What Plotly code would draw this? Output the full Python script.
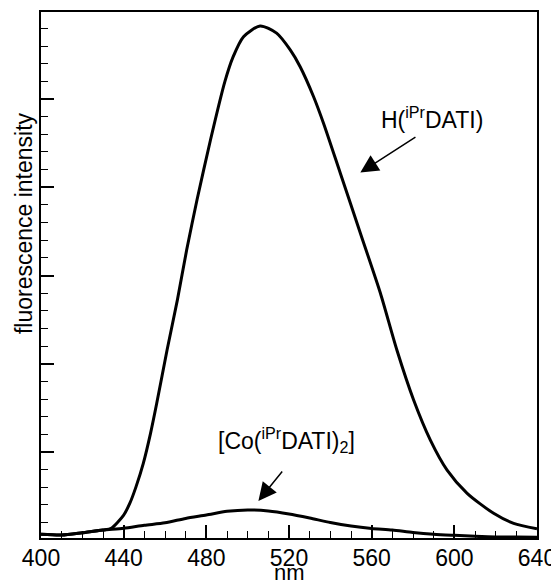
import plotly.graph_objects as go

# Wavelength (nm) and intensity (arbitrary units; 1 unit = one minor y tick)
h_nm = [400, 410, 420, 430, 434, 440, 443, 446, 449.5, 453, 456, 461, 466, 470.5, 475.5,
        482, 489, 493, 498, 506, 514, 520.6, 525.4, 531.9, 536.7, 544.8, 554.5, 564.2,
        572.2, 580.3, 588.4, 596.5, 606.2, 619, 628.7, 640]
h_int = [0.34, 0.30, 0.43, 0.58, 0.68, 1.43, 2.10, 3.04, 4.36, 6.06, 7.76, 10.78, 13.62, 16.46,
         19.29, 22.68, 26.0, 27.4, 28.53, 29.14, 28.73, 27.78, 26.83, 25.13, 23.63, 20.81,
         17.41, 14.01, 10.78, 7.95, 5.68, 3.98, 2.66, 1.53, 0.96, 0.65]

co_nm = [400, 410, 420, 430, 440, 450, 460, 470, 480, 490, 500, 510, 520, 530, 540, 550,
         560, 570, 580, 590, 600, 610, 620, 630, 640]
co_int = [0.34, 0.30, 0.43, 0.58, 0.68, 0.85, 0.99, 1.24, 1.43, 1.64, 1.72, 1.66, 1.49, 1.26,
          1.01, 0.81, 0.67, 0.58, 0.44, 0.34, 0.28, 0.23, 0.19, 0.18, 0.17]

x_ticks = [400, 440, 480, 520, 560, 600, 640]

FONT = "Liberation Sans, Arial, Helvetica, sans-serif"

fig = go.Figure()
fig.add_trace(go.Scatter(x=h_nm, y=h_int, mode="lines",
                         line=dict(color="black", width=3, shape="spline", smoothing=0.7), showlegend=False))
fig.add_trace(go.Scatter(x=co_nm, y=co_int, mode="lines",
                         line=dict(color="black", width=3, shape="spline", smoothing=0.7), showlegend=False))

fig.update_xaxes(range=[400, 640], tickvals=x_ticks, ticktext=[str(v) for v in x_ticks], automargin=False,
                 ticks="inside", ticklen=13, tickwidth=1.5, tickcolor="black", ticklabelstandoff=-2,
                 minor=dict(ticks="inside", ticklen=7, dtick=10, tick0=400, tickwidth=1.2, tickcolor="black"),
                 showline=True, linecolor="black", linewidth=2, mirror=True, showgrid=False, zeroline=False,
                 tickfont=dict(family=FONT, size=23, color="black"))
fig.update_yaxes(range=[0.13, 29.93], dtick=5, tick0=0, showticklabels=False, automargin=False,
                 ticks="inside", ticklen=13, tickwidth=1.5, tickcolor="black",
                 minor=dict(ticks="inside", ticklen=7, dtick=1, tick0=0, tickwidth=1.2, tickcolor="black"),
                 showline=True, linecolor="black", linewidth=2, mirror=True, showgrid=False, zeroline=False)

ann = [
    dict(text="fluorescence intensity", xref="paper", yref="paper", x=-0.033, y=0.598, textangle=-90,
         showarrow=False, font=dict(family=FONT, size=23, color="black"), xanchor="center", yanchor="middle"),
    dict(text="nm", xref="paper", yref="paper", x=0.5, y=-0.093, showarrow=False,
         font=dict(family=FONT, size=22, color="black"), xanchor="center", yanchor="bottom"),
    dict(text="H(<sup>iPr</sup>DATI)", x=589.2, y=23.9, xref="x", yref="y", showarrow=False,
         font=dict(family=FONT, size=23, color="black")),
    dict(text="[Co(<sup>iPr</sup>DATI)<sub>2</sub>]", x=518.9, y=5.7, xref="x", yref="y", showarrow=False,
         font=dict(family=FONT, size=23, color="black")),
    dict(text="", x=554.5, y=20.83, ax=581.9, ay=22.9, xref="x", yref="y", axref="x", ayref="y",
         showarrow=True, arrowhead=2, arrowsize=2.4, arrowwidth=1.5, arrowcolor="black"),
    dict(text="", x=505.2, y=2.23, ax=517.3, ay=3.98, xref="x", yref="y", axref="x", ayref="y",
         showarrow=True, arrowhead=2, arrowsize=2.4, arrowwidth=1.5, arrowcolor="black"),
]
# The page body adds an 8 px margin, so the figure is 8 px smaller than the window each way.
fig.update_layout(width=551, height=579, margin=dict(l=33, r=22, t=4, b=49),
                  plot_bgcolor="white", paper_bgcolor="white", annotations=ann)

fig.write_html("out.html")
